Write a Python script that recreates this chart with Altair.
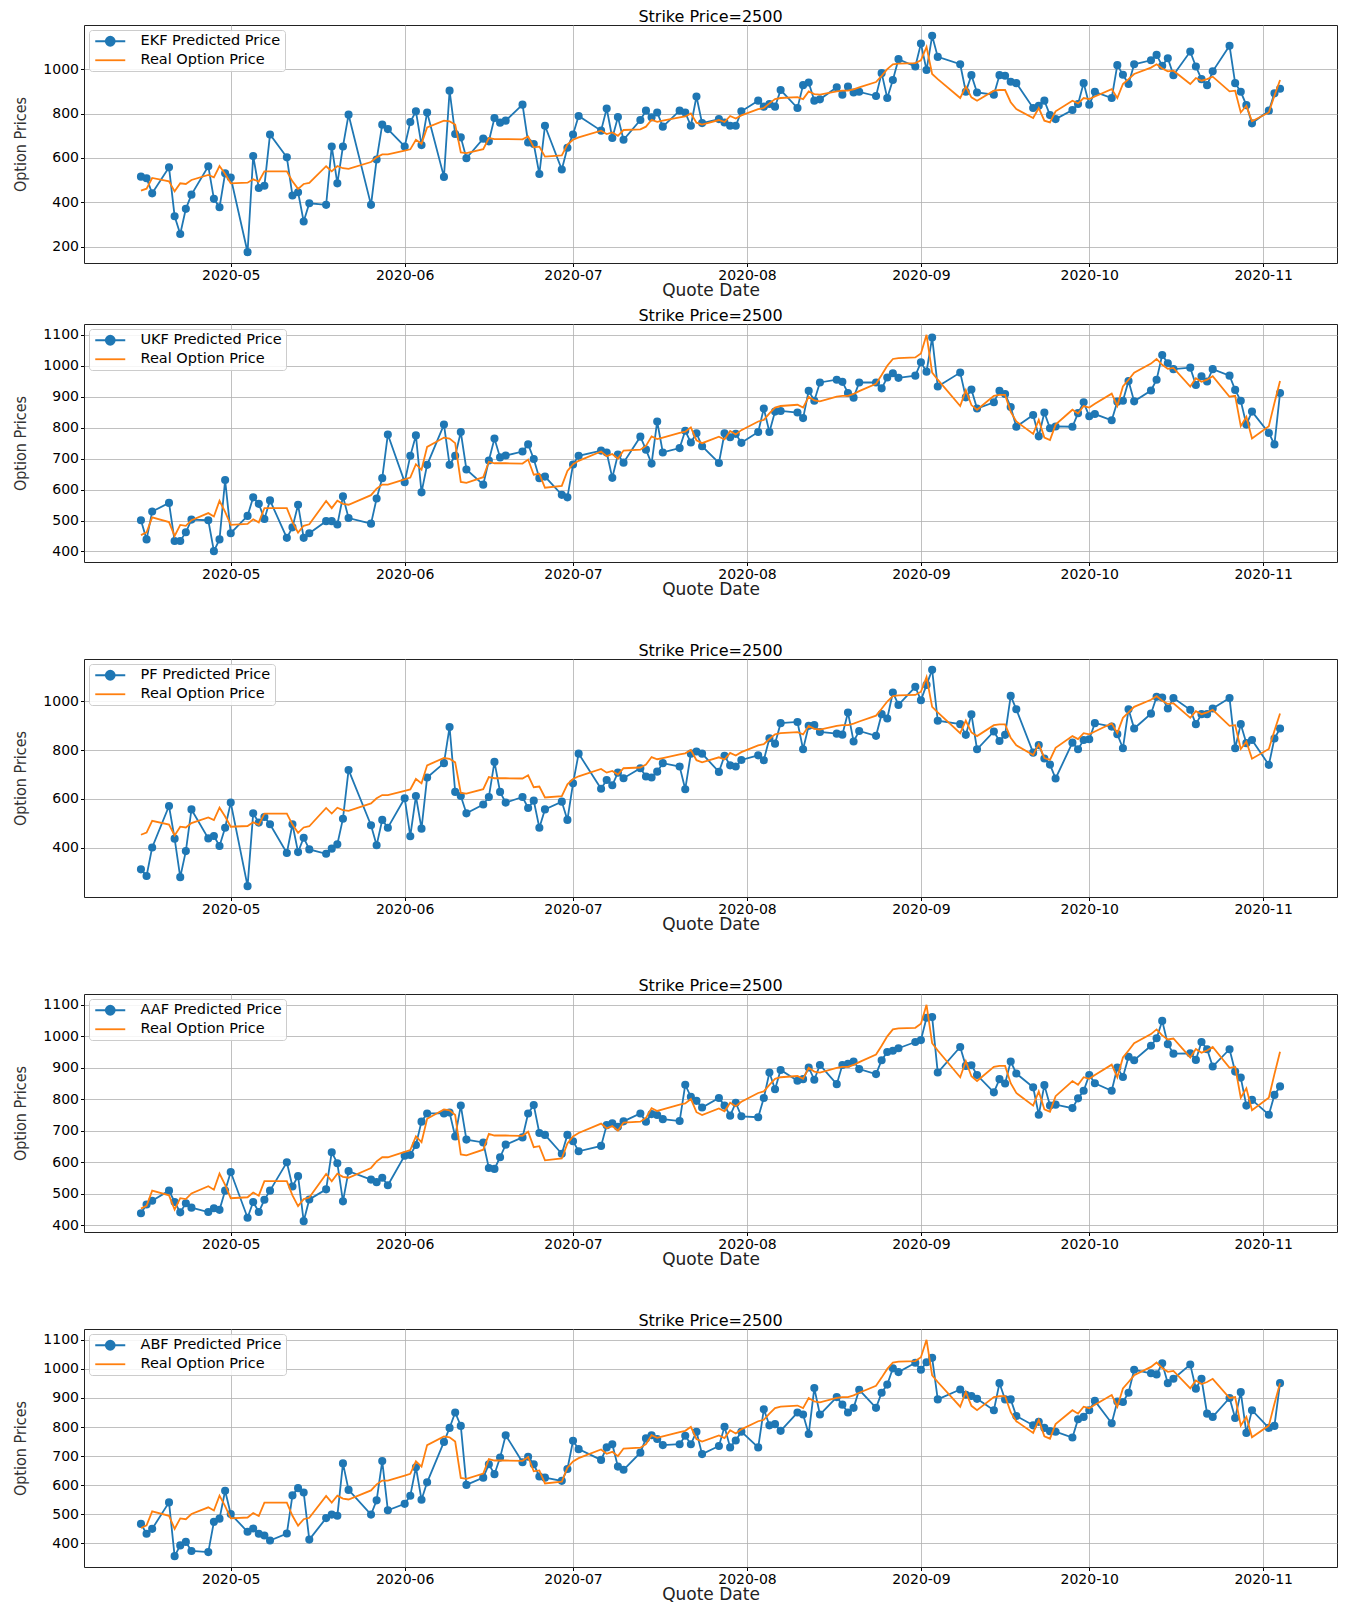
import altair as alt
import pandas as pd

# ---------------- data ----------------
holidays = ["2020-05-25", "2020-07-03", "2020-09-07"]
quote_dates = [d.strftime("%Y-%m-%d") for d in
               pd.bdate_range("2020-04-15", "2020-11-04", freq="C", holidays=holidays)]

real_price = [
    453, 462, 510, 495, 450, 486, 483, 501, 524, 513, 564, 528,
    486, 489, 504, 494, 540, 540,
    540, 495, 461, 483, 488,
    563, 540, 564, 554, 551,
    582, 603, 616, 616,
    633, 639, 682, 664, 738,
    768, 765, 750, 625, 622,
    640, 690, 685, 685, 685,
    684, 697, 648, 651, 606,
    612, 660, 682, 693,
    723, 708, 715, 700, 726,
    729, 741, 772, 763, 768,
    783, 787, 801, 759, 750, 771,
    762, 789, 778, 792,
    820, 825, 846, 865, 870,
    874, 865, 900, 888, 885,
    900, 903, 903, 909, 918,
    942, 970, 1000, 1022, 1025,
    1027, 1040, 1100, 978, 955,
    870, 921, 873, 858,
    903, 906, 906, 851, 820,
    780, 825, 768, 760, 810,
    858, 846, 870, 865, 877,
    910, 870, 933, 955, 978,
    1007, 1022, 1003, 990, 993,
    933, 960, 948, 955, 966,
    900, 903, 805, 835, 765,
    805, 880, 951,
]

ekf_pred = [
    516, 509, 441, 558, 338, 258, 371, 435, 563, 416, 378, 531,
    512, 176, 609, 465, 475, 706,
    603, 431, 446, 314, 396,
    389, 652, 486, 652, 795,
    389, 593, 750, 730,
    652, 762, 810, 658, 805,
    515, 903, 708, 693, 599,
    687, 675, 780, 759, 768,
    840, 670, 663, 528, 745,
    548, 646, 706, 789,
    723, 823, 690, 784, 682,
    771, 813, 783, 805, 741,
    813, 805, 745, 877, 757, 775,
    760, 745, 745, 810,
    858, 831, 843, 831, 906,
    825, 928, 940, 858, 864,
    918, 885, 922, 895, 898,
    879, 982, 870, 951, 1045,
    1012, 1115, 996, 1150, 1055,
    1022, 898, 973, 895,
    885, 973, 970, 943, 937,
    825, 835, 858, 793, 775,
    816, 843, 937, 840, 898,
    870, 1018, 975, 933, 1022,
    1040, 1064, 1015, 1049, 973,
    1079, 1012, 955, 928, 990,
    1105, 937, 898, 838, 756,
    813, 891, 912,
]

ukf_pred = [
    501, 439, 529, 557, 434, 434, 462, 503, 501, 401, 439, 631,
    459, 515, 575, 554, 505, 565,
    444, 478, 551, 444, 459,
    498, 498, 487, 578, 508,
    490, 571, 637, 778,
    624, 709, 775, 591, 680,
    810, 680, 709, 786, 665,
    616, 694, 765, 704, 710,
    723, 746, 699, 637, 642,
    583, 575, 681, 709,
    726, 720, 638, 713, 687,
    771, 729, 684, 820, 720,
    734, 790, 752, 782, 740, 686,
    782, 769, 780, 751,
    786, 862, 786, 852, 854,
    849, 831, 919, 887, 946,
    955, 948, 912, 897, 946,
    946, 927, 962, 976, 961,
    968, 1011, 981, 1091, 933,
    978, 898, 923, 862,
    882, 919, 909, 867, 803,
    841, 772, 849, 798, 804,
    803, 847, 882, 837, 844,
    824, 884, 887, 951, 885,
    920, 955, 1035, 1008, 989,
    994, 938, 966, 949, 989,
    968, 922, 887, 810, 852,
    783, 746, 912,
]

pf_pred = [
    311, 284, 401, 571, 437, 279, 386, 557, 438, 448, 407, 482,
    585, 242, 541, 503, 526, 496,
    378, 496, 382, 441, 393,
    375, 396, 414, 519, 719,
    492, 410, 514, 482,
    603, 447, 612, 478, 688,
    747, 895, 629, 612, 541,
    577, 608, 752, 629, 585,
    608, 563, 593, 482, 557,
    589, 514, 664, 786,
    642, 678, 656, 708, 685,
    726, 692, 688, 712, 747,
    733, 640, 786, 795, 786, 711,
    777, 738, 733, 760,
    779, 759, 849, 827, 911,
    916, 804, 900, 903, 875,
    868, 864, 955, 836, 879,
    859, 948, 930, 1037, 986,
    1060, 1005, 1068, 1130, 921,
    907, 863, 947, 804,
    877, 838, 863, 1023, 968,
    790, 821, 766, 741, 684,
    831, 804, 842, 845, 911,
    897, 866, 808, 968, 889,
    950, 1019, 1016, 971, 1014,
    966, 907, 948, 948, 971,
    1014, 808, 907, 829, 842,
    740, 848, 889,
]

aaf_pred = [
    438, 466, 478, 510, 474, 441, 470, 456, 442, 454, 449, 510,
    569, 424, 474, 442, 481, 510,
    600, 523, 556, 413, 482,
    514, 632, 597, 476, 572,
    545, 537, 551, 527,
    621, 623, 655, 729, 755,
    755, 758, 682, 780, 672,
    663, 582, 579, 616, 656,
    679, 755, 782, 693, 687,
    627, 687, 667, 635,
    652, 718, 724, 713, 730,
    755, 729, 753, 750, 737,
    731, 846, 808, 795, 774, 804,
    780, 748, 789, 746,
    743, 804, 885, 832, 893,
    859, 864, 901, 862, 909,
    848, 909, 913, 920, 896,
    880, 924, 950, 954, 962,
    982, 988, 1059, 1061, 885,
    966, 906, 908, 877,
    822, 864, 850, 920, 882,
    838, 751, 845, 780, 783,
    772, 803, 827, 877, 851,
    827, 901, 871, 935, 924,
    970, 994, 1049, 975, 945,
    946, 925, 982, 959, 904,
    959, 888, 869, 780, 798,
    751, 814, 841,
]

abf_pred = [
    467, 433, 450, 541, 356, 393, 405, 374, 370, 474, 485, 581,
    501, 440, 451, 433, 427, 410,
    434, 565, 590, 575, 413,
    487, 499, 495, 675, 584,
    499, 548, 683, 514,
    536, 564, 662, 550, 610,
    749, 797, 850, 804, 601,
    626, 672, 638, 695, 772,
    679, 698, 672, 630, 626,
    615, 656, 753, 724,
    687, 730, 741, 664, 653,
    712, 761, 772, 759, 738,
    741, 770, 741, 784, 707, 735,
    801, 730, 754, 784,
    730, 861, 806, 810, 787,
    850, 843, 776, 934, 843,
    903, 877, 850, 866, 928,
    866, 918, 946, 1002, 989,
    1021, 997, 1023, 1038, 895,
    929, 911, 907, 897,
    858, 951, 895, 895, 838,
    806, 818, 797, 786, 784,
    764, 827, 835, 858, 890,
    813, 888, 886, 918, 997,
    985, 981, 1019, 951, 966,
    1015, 932, 966, 846, 835,
    900, 831, 920, 780, 858,
    797, 804, 951,
]

filters = ["EKF", "UKF", "PF", "AAF", "ABF"]
predictions = [ekf_pred, ukf_pred, pf_pred, aaf_pred, abf_pred]
y_ticks = [
    [200, 400, 600, 800, 1000],
    [400, 500, 600, 700, 800, 900, 1000, 1100],
    [400, 600, 800, 1000],
    [400, 500, 600, 700, 800, 900, 1000, 1100],
    [400, 500, 600, 700, 800, 900, 1000, 1100],
]
month_ticks = ["2020-05-01", "2020-06-01", "2020-07-01", "2020-08-01",
               "2020-09-01", "2020-10-01", "2020-11-01"]

REAL = "Real Option Price"
BLUE = "#1f77b4"
ORANGE = "#ff7f0e"


def ms(s):
    return int(pd.Timestamp(s, tz="UTC").value // 10**6)


t0, t1 = ms(quote_dates[0]), ms(quote_dates[-1])
x_domain = [t0 - 0.05 * (t1 - t0), t1 + 0.05 * (t1 - t0)]
x_tick_values = [ms(m) for m in month_ticks]

PRED_PATH = "M-1,0H5M2.9,0A0.9,0.9,0,1,1,1.1,0A0.9,0.9,0,1,1,2.9,0Z"
LINE_PATH = "M-1,0H5"


def panel(name, pred, ticks):
    pred_label = f"{name} Predicted Price"
    pred_df = pd.DataFrame({"date": quote_dates, "value": pred, "series": pred_label})
    real_df = pd.DataFrame({"date": quote_dates, "value": real_price, "series": REAL})
    allv = pred + real_price
    lo, hi = min(allv), max(allv)
    pad = 0.05 * (hi - lo)

    legend = alt.Legend(
        orient="top-left", offset=5, padding=4,
        fillColor="rgba(255,255,255,0.85)", strokeColor="#cccccc", cornerRadius=3,
        labelFontSize=14.5, labelFont="DejaVu Sans", labelColor="black",
        symbolSize=100, symbolStrokeWidth=1.8, labelOffset=33, rowPadding=2,
        symbolType=alt.ExprRef(expr=f"datum.value == '{REAL}' ? '{LINE_PATH}' : '{PRED_PATH}'"),
    )

    x = alt.X("date:T",
              scale=alt.Scale(type="utc", domain=x_domain, nice=False),
              axis=alt.Axis(values=x_tick_values, format="%Y-%m", title="Quote Date",
                            titleFontSize=17, titlePadding=0, labelPadding=2))
    y = alt.Y("value:Q",
              scale=alt.Scale(domain=[lo - pad, hi + pad], nice=False, zero=False),
              axis=alt.Axis(values=ticks, format="d", title="Option Prices",
                            titleFont="'Liberation Sans Narrow', 'DejaVu Sans Condensed', sans-serif",
                            titleFontSize=16, titlePadding=14, titleColor="#333333", labelPadding=2))
    stroke = alt.Stroke("series:N",
                        scale=alt.Scale(domain=[pred_label, REAL], range=[BLUE, ORANGE]),
                        legend=legend, title=None)

    pred_line = alt.Chart(pred_df).mark_line(strokeWidth=1.8, color=BLUE).encode(x=x, y=y)
    pred_pts = alt.Chart(pred_df).mark_point(
        filled=True, size=40, strokeWidth=1.8, opacity=1, color=BLUE).encode(x=x, y=y, stroke=stroke)
    real_line = alt.Chart(real_df).mark_line(strokeWidth=1.8, color=ORANGE).encode(x=x, y=y)

    return alt.layer(pred_line, pred_pts, real_line).properties(
        width=1253, height=238,
        title=alt.TitleParams("Strike Price=2500", fontSize=16, fontWeight="normal",
                              font="DejaVu Sans", color="black", offset=0, anchor="middle"),
    )


charts = [panel(f, p, t) for f, p, t in zip(filters, predictions, y_ticks)]

top = alt.vconcat(charts[0], charts[1], spacing=8).resolve_scale(
    stroke="independent", x="independent", y="independent").resolve_legend(stroke="independent")

chart = alt.vconcat(top, charts[2], charts[3], charts[4], spacing=44).resolve_scale(
    stroke="independent", x="independent", y="independent").resolve_legend(
    stroke="independent").properties(
    padding={"left": 4, "right": 0, "top": 0, "bottom": 0}
).configure_axis(
    gridColor="#b0b0b0", gridWidth=0.8, domain=False, tickColor="black", tickSize=3.5,
    labelFontSize=14, labelColor="black", labelFont="DejaVu Sans",
    titleFont="DejaVu Sans", titleFontWeight="normal", titleColor="#222222",
).configure_view(stroke="#222222", strokeWidth=1)

chart.save("out.html", embed_options={"renderer": "svg", "actions": False})
